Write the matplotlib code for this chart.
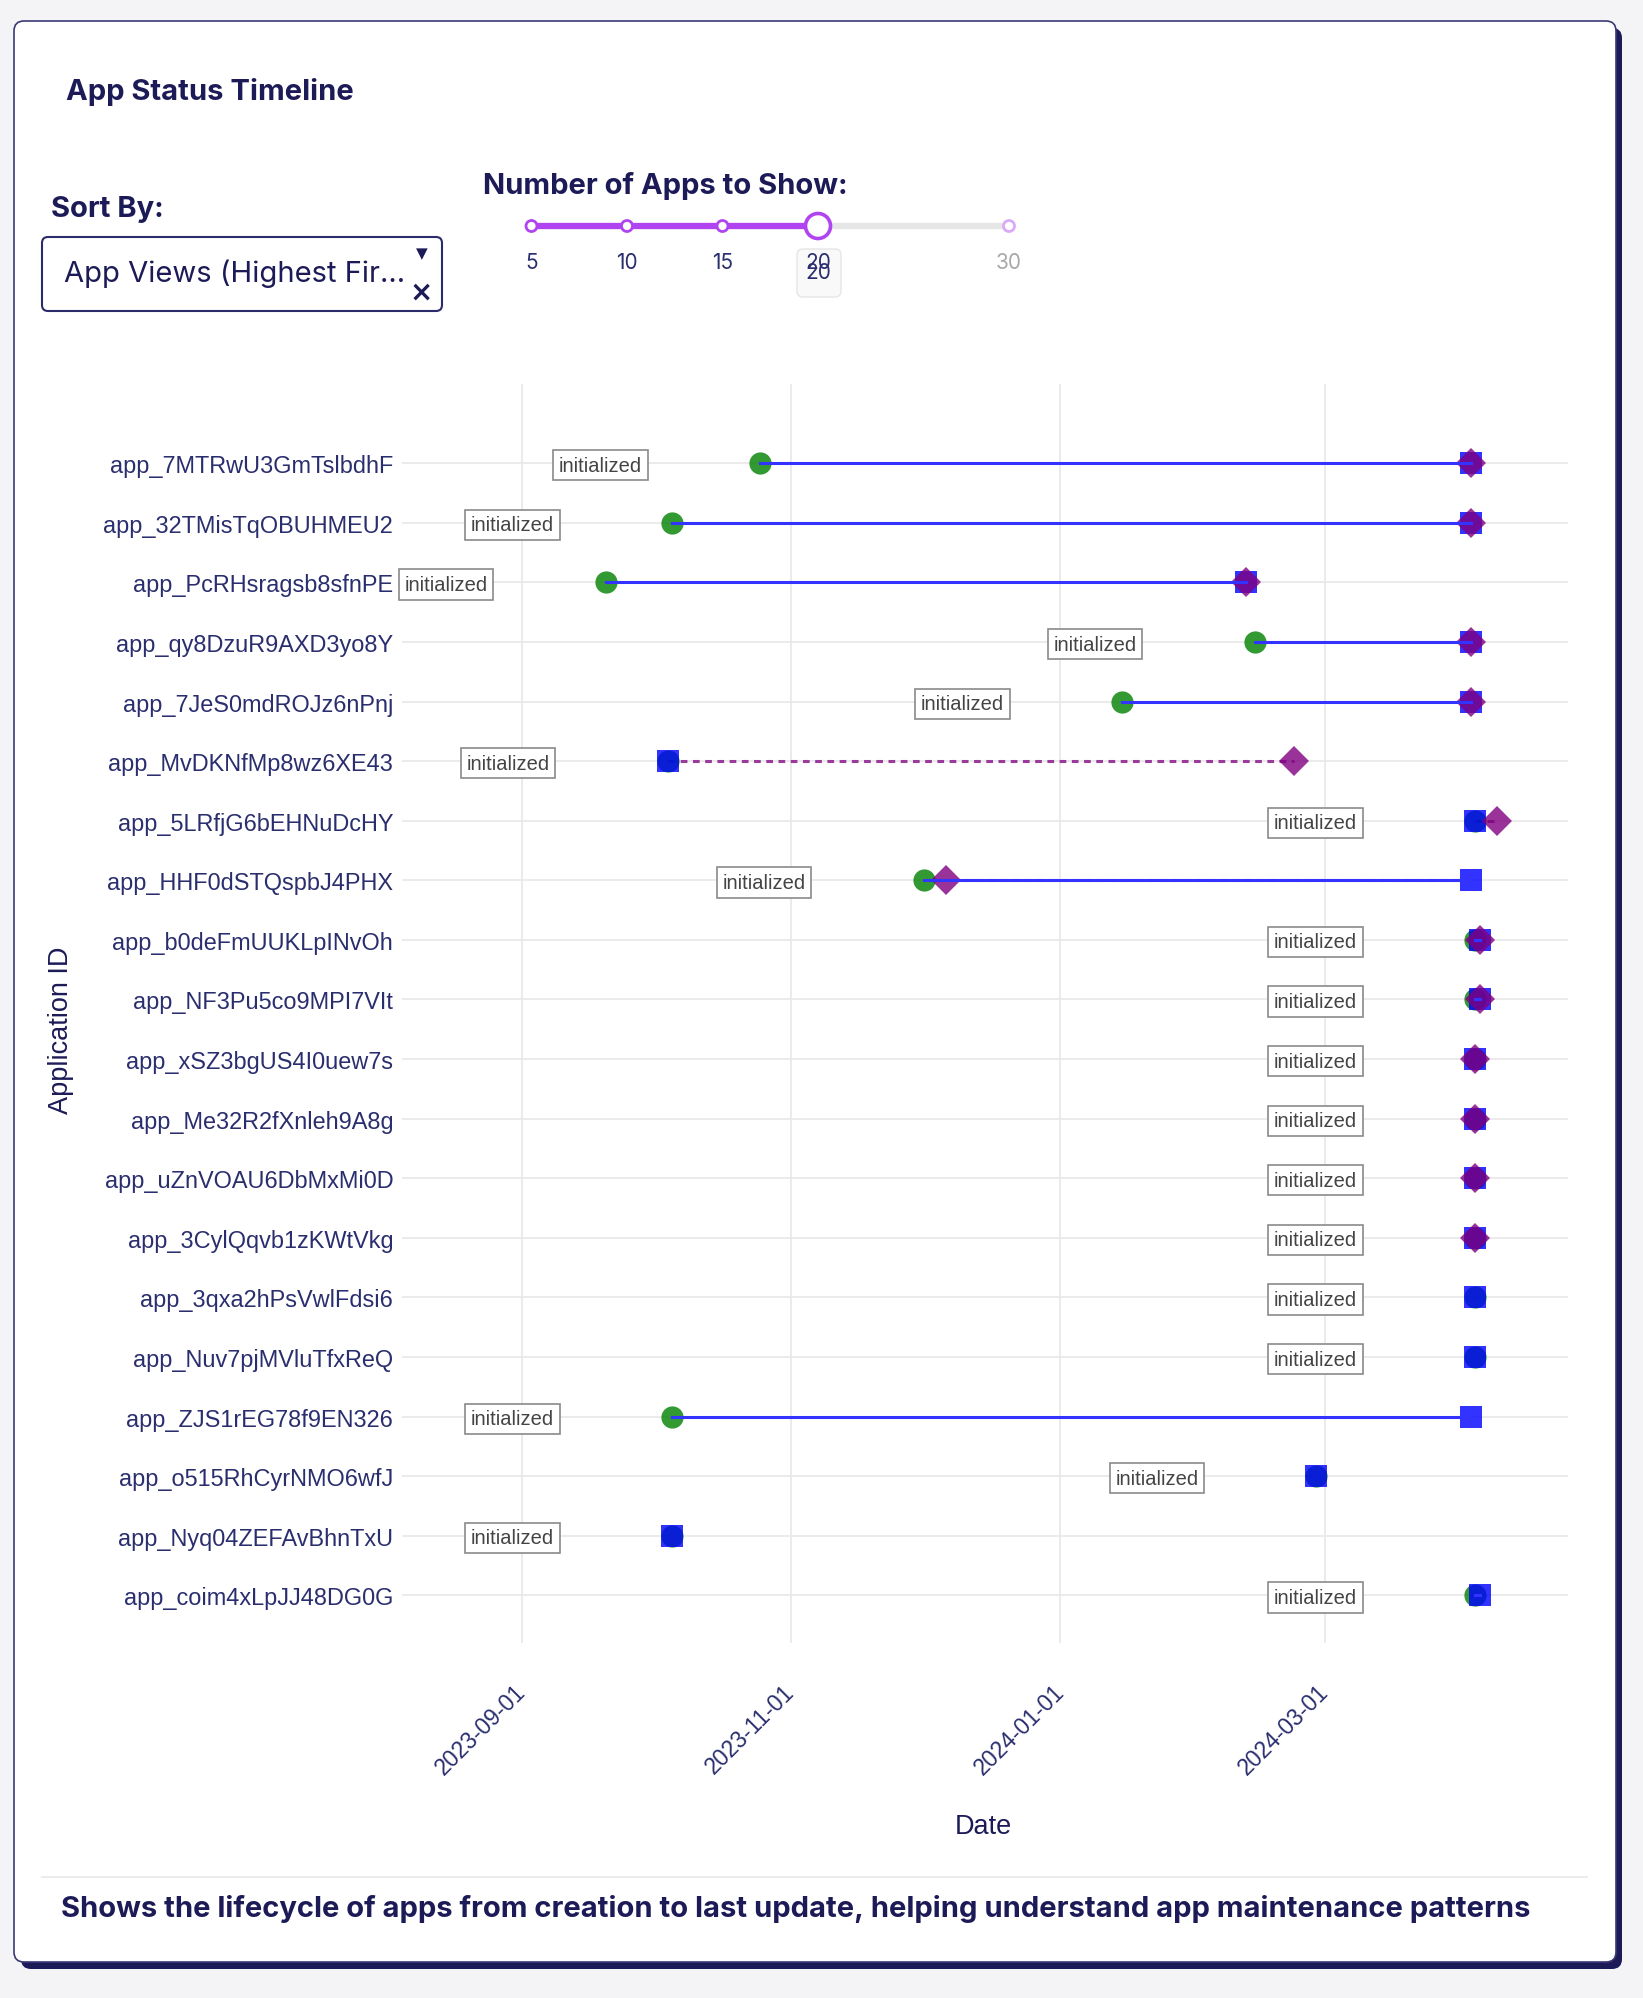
import numpy as np
import pandas as pd
import matplotlib
matplotlib.use("Agg")
import matplotlib.pyplot as plt
import matplotlib.dates as mdates
from matplotlib.patches import FancyBboxPatch, Circle

# Data
apps = [
    "app_7MTRwU3GmTslbdhF", "app_32TMisTqOBUHMEU2", "app_PcRHsragsb8sfnPE",
    "app_qy8DzuR9AXD3yo8Y", "app_7JeS0mdROJz6nPnj", "app_MvDKNfMp8wz6XE43",
    "app_5LRfjG6bEHNuDcHY", "app_HHF0dSTQspbJ4PHX", "app_b0deFmUUKLpINvOh",
    "app_NF3Pu5co9MPI7VIt", "app_xSZ3bgUS4I0uew7s", "app_Me32R2fXnleh9A8g",
    "app_uZnVOAU6DbMxMi0D", "app_3CylQqvb1zKWtVkg", "app_3qxa2hPsVwlFdsi6",
    "app_Nuv7pjMVluTfxReQ", "app_ZJS1rEG78f9EN326", "app_o515RhCyrNMO6wfJ",
    "app_Nyq04ZEFAvBhnTxU", "app_coim4xLpJJ48DG0G",
]
created = [
    "2023-10-25", "2023-10-05", "2023-09-20", "2024-02-14", "2024-01-15",
    "2023-10-04", "2024-04-04", "2023-12-01", "2024-04-04", "2024-04-04",
    "2024-04-04", "2024-04-04", "2024-04-04", "2024-04-04", "2024-04-04",
    "2024-04-04", "2023-10-05", "2024-02-28", "2023-10-05", "2024-04-04",
]
updated = [
    "2024-04-03", "2024-04-03", "2024-02-12", "2024-04-03", "2024-04-03",
    "2023-10-04", "2024-04-04", "2024-04-03", "2024-04-05", "2024-04-05",
    "2024-04-04", "2024-04-04", "2024-04-04", "2024-04-04", "2024-04-04",
    "2024-04-04", "2024-04-03", "2024-02-28", "2023-10-05", "2024-04-05",
]
published = [
    "2024-04-03", "2024-04-03", "2024-02-12", "2024-04-03", "2024-04-03",
    "2024-02-23", "2024-04-09", "2023-12-06", "2024-04-05", "2024-04-05",
    "2024-04-04", "2024-04-04", "2024-04-04", "2024-04-04", None,
    None, None, None, None, None,
]
status = ["initialized"] * len(apps)
xticks = ["2023-09-01", "2023-11-01", "2024-01-01", "2024-03-01"]

slider_marks = [5, 10, 15, 20, 30]
slider_value = 20

NAVY = "#1c1b57"
TICK = "#2a2e6e"
plt.rcParams["font.family"] = ["Liberation Sans", "DejaVu Sans"]
UI = ["Inter", "DejaVu Sans"]

W, H = 1643, 1999
fig = plt.figure(figsize=(W / 100, H / 100), dpi=100)
fig.patch.set_facecolor("#f4f4f7")

# background layer in pixel coordinates
bg = fig.add_axes([0, 0, 1, 1], zorder=0)
bg.set_xlim(0, W)
bg.set_ylim(H, 0)
bg.axis("off")

bg.add_patch(FancyBboxPatch((21, 29), 1601, 1941, boxstyle="round,pad=0,rounding_size=10",
                            fc=NAVY, ec="none"))
bg.add_patch(FancyBboxPatch((14, 22), 1602, 1941, boxstyle="round,pad=0,rounding_size=10",
                            fc="white", ec="#3a3975", lw=1.2))

bg.text(66, 92, "App Status Timeline", family=UI, fontweight="bold", fontsize=21,
        color=NAVY, va="center")
bg.text(51, 209, "Sort By:", family=UI, fontweight="bold", fontsize=21, color=NAVY, va="center")
bg.text(483, 186, "Number of Apps to Show:", family=UI, fontweight="bold", fontsize=21,
        color=NAVY, va="center")

# dropdown
bg.add_patch(FancyBboxPatch((42, 238), 400, 74, boxstyle="round,pad=0,rounding_size=6",
                            fc="white", ec="#2b2a6a", lw=1.5))
bg.text(64, 274, "App Views (Highest Fir...", family=UI, fontsize=21, color=NAVY, va="center")
bg.text(422, 254, "\u25bc", family="DejaVu Sans", fontsize=11, color=NAVY, ha="center", va="center")
bg.text(421, 293, "\u00d7", family="DejaVu Sans", fontsize=20, fontweight="bold", color=NAVY,
        ha="center", va="center")

# slider
sx0, sdx, sy = 531.5, 19.1, 227
pos = {m: sx0 + (m - slider_marks[0]) * sdx for m in slider_marks}
PURP = "#b044f0"
bg.plot([pos[5], pos[30]], [sy, sy], color="#e6e6e6", lw=4.5, solid_capstyle="round", zorder=1)
bg.plot([pos[5], pos[slider_value]], [sy, sy], color=PURP, lw=4.5, solid_capstyle="round", zorder=2)
for m in slider_marks:
    active = m <= slider_value
    ec = PURP if active else "#dba9fa"
    if m == slider_value:
        bg.add_patch(Circle((pos[m], sy), 12.5, fc="white", ec=PURP, lw=2.6, zorder=4))
    else:
        bg.add_patch(Circle((pos[m], sy), 5.5, fc="white", ec=ec, lw=2, zorder=3))
bg.add_patch(FancyBboxPatch((797, 250), 44, 48, boxstyle="round,pad=0,rounding_size=6",
                            fc="#f9f9f9", ec="#e6e6e6", lw=1, zorder=1))
for m in slider_marks:
    col = TICK if m <= slider_value else "#a8a8a8"
    bg.text(pos[m], 263, str(m), family=UI, fontsize=15, color=col, ha="center", va="center", zorder=5)
bg.text(pos[slider_value], 273, str(slider_value), family=UI, fontsize=15, color=TICK,
        ha="center", va="center", zorder=5)

# footer
bg.plot([42, 1587], [1878, 1878], color="#ececec", lw=1.5)
bg.text(61, 1909, "Shows the lifecycle of apps from creation to last update, helping understand "
        "app maintenance patterns", family=UI, fontweight="bold", fontsize=21, color=NAVY,
        va="center")

# main chart
ax = fig.add_axes([401.5 / W, 1 - 1644 / H, 1166.5 / W, 1259 / H], zorder=1)
ax.set_facecolor("none")

y = np.arange(len(apps))
c = mdates.date2num(pd.to_datetime(created))
u = mdates.date2num(pd.to_datetime(updated))
p = mdates.date2num(pd.to_datetime(published))

for i in range(len(apps)):
    if not np.isnan(p[i]):
        ax.plot([u[i], p[i]], [y[i], y[i]], color="#9a3a9a", lw=2.2,
                ls=(0, (2.2, 1.8)), zorder=1)
    ax.plot([c[i], u[i]], [y[i], y[i]], color="#3333ff", lw=2.2, zorder=5)
    ax.annotate(status[i], xy=(c[i], y[i]), xytext=(-115, -1.5), textcoords="offset points",
                ha="center", va="center", fontsize=14.5, color="#444444",
                bbox=dict(boxstyle="square,pad=0.28", fc="white", ec="#8a8a8a", lw=1.2),
                zorder=6)

ax.plot(c, y, "o", color="green", alpha=0.8, ms=16, mew=0, zorder=2)
ax.plot(u, y, "s", color="blue", alpha=0.8, ms=16.5, mew=0, zorder=3)
ax.plot(p, y, "D", color="purple", alpha=0.8, ms=15, mew=0, zorder=4)

t0 = mdates.date2num(pd.Timestamp(xticks[0]))
ax.set_xlim(t0 - 27.3, t0 + 237.0)
ax.set_ylim(19.8, -1.33)
ax.set_xticks(mdates.date2num(pd.to_datetime(xticks)))
ax.set_xticklabels(xticks, rotation=45, ha="right", va="center", rotation_mode="anchor",
                   fontsize=16.5, color=TICK)
ax.set_yticks(y)
ax.set_yticklabels(apps, fontsize=16.9, color=TICK)
ax.tick_params(axis="both", length=0)
ax.tick_params(axis="y", pad=6)
ax.tick_params(axis="x", pad=32)
ax.grid(True, color="#e8e8e8", lw=1.2, zorder=0)
ax.set_axisbelow(True)
for s in ax.spines.values():
    s.set_visible(False)

ax.set_xlabel("Date", fontsize=19.5, color=NAVY)
ax.xaxis.set_label_coords(0.4985, -0.145)
ax.xaxis.label.set_va("center")
ax.set_ylabel("Application ID", fontsize=19.5, color=NAVY)
ax.yaxis.set_label_coords(-0.292, 0.4877)
ax.yaxis.label.set_va("center")

fig.savefig("out.png", dpi=100, facecolor=fig.get_facecolor())
